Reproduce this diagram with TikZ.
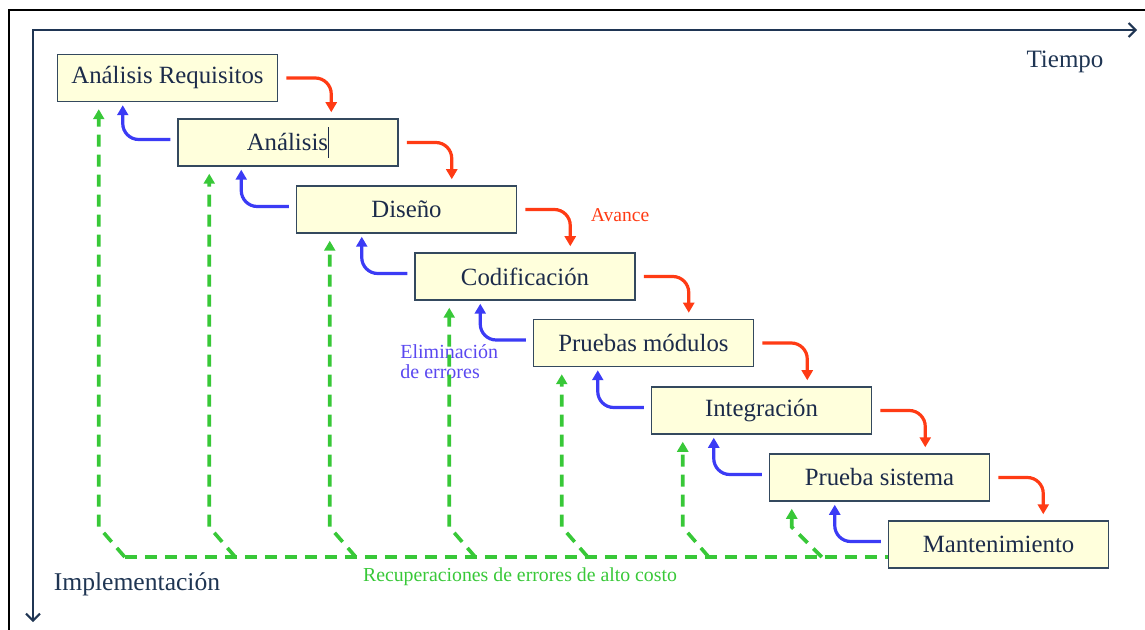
\documentclass[tikz,border=0pt]{standalone}
\usepackage{fontspec}
\setmainfont{Liberation Serif}
\usetikzlibrary{arrows.meta,calc}
\definecolor{fasefill}{HTML}{FFFFDC}
\definecolor{fasedraw}{HTML}{34495E}
\definecolor{fasetext}{HTML}{1C2B4A}
\definecolor{rojo}{HTML}{FF3B14}
\definecolor{azul}{HTML}{3B3BF5}
\definecolor{violeta}{HTML}{5A48F0}
\definecolor{verde}{HTML}{38C838}
\definecolor{ejecolor}{HTML}{1F3553}
\tikzset{
  fase box/.style = {
    shape = rectangle,
    align = center,
    draw  = fasedraw,
    fill  = fasefill,
    text  = fasetext,
    line width = 0.75pt,
    minimum width = 110pt,
    minimum height = 23.5pt,
    inner sep = 0pt,
    font = \fontsize{12.4}{14}\selectfont},
  avance/.style = {draw = rojo, line width = 1.6pt, rounded corners = 8pt,
    -{Triangle[width = 5.5pt, length = 5pt]}},
  elim/.style = {draw = azul, line width = 1.6pt, rounded corners = 8pt,
    -{Triangle[width = 5.5pt, length = 5pt]}},
  recup/.style = {draw = verde, line width = 1.8pt, dash pattern = on 6pt off 4pt,
    -{Triangle[width = 5.5pt, length = 5pt]}},
  recup line/.style = {draw = verde, line width = 1.8pt, dash pattern = on 6pt off 4pt},
  eje/.style = {draw = ejecolor, line width = 1pt,
    {Straight Barb[length = 3.5pt, width = 7pt]}-{Straight Barb[length = 3.5pt, width = 7pt]}}
}
\begin{document}
\begin{tikzpicture}[x = 0.5pt, y = -0.5pt]
  \useasboundingbox (0,0) rectangle (1145,630);
  \draw[line width = 1pt] (9,630) -- (9,10) -- (1145,10);
  % ejes
  \coordinate (origen) at (33,30);
  \coordinate (tfin) at (1137,30);
  \coordinate (ifin) at (33,622);
  \coordinate (base) at (0,557);
  \draw[eje] (ifin) -- (origen) -- (tfin);
  \node[text = ejecolor, font = \fontsize{12.5}{14}\selectfont] (tiempo) at (1065,62) {Tiempo};
  \node[text = ejecolor, font = \fontsize{12.8}{14}\selectfont] (impl) at (137,584) {Implementación};
  % fases
  \node[fase box] (req)  at (167.5,78)  {Análisis Requisitos};
  \node[fase box] (ana)  at (288,142.5) {Análisis\rule[-0.3em]{0.6pt}{1.25em}};
  \node[fase box] (dis)  at (406.5,209.5) {Diseño};
  \node[fase box] (cod)  at (525,276.5) {Codificación};
  \node[fase box] (pmod) at (643.5,343) {Pruebas módulos};
  \node[fase box] (int)  at (761.5,410.5) {Integración};
  \node[fase box] (psis) at (879.5,477.5) {Prueba sistema};
  \node[fase box] (mant) at (998.5,544.5) {Mantenimiento};
  % textos
  \node[text = rojo, font = \fontsize{9.8}{12}\selectfont] (avtxt) at (620,215) {Avance};
  \node[text = violeta, align = left, anchor = west, inner sep = 0pt,
        font = \fontsize{10}{10}\selectfont] (eltxt) at (400,362) {Eliminación\\de errores};
  \node[text = verde, font = \fontsize{9.9}{12}\selectfont] (rectxt) at (520,577)
        {Recuperaciones de errores de alto costo};
  % avance
  \draw[avance] ([xshift = 4pt]req.east)  -| ($(req.east |- ana.north)+(26.5pt,3pt)$);
  \draw[avance] ([xshift = 4pt]ana.east)  -| ($(ana.east |- dis.north)+(26.5pt,3pt)$);
  \draw[avance] ([xshift = 4pt]dis.east)  -| ($(dis.east |- cod.north)+(26.5pt,3pt)$);
  \draw[avance] ([xshift = 4pt]cod.east)  -| ($(cod.east |- pmod.north)+(26.5pt,3pt)$);
  \draw[avance] ([xshift = 4pt]pmod.east) -| ($(pmod.east |- int.north)+(26.5pt,3pt)$);
  \draw[avance] ([xshift = 4pt]int.east)  -| ($(int.east |- psis.north)+(26.5pt,3pt)$);
  \draw[avance] ([xshift = 4pt]psis.east) -| ($(psis.east |- mant.north)+(26.5pt,3pt)$);
  % eliminacion de errores
  \draw[elim] ([xshift = -3.5pt, yshift = 1.5pt]ana.west)  -| ($(req.south west)+(33pt,-1.5pt)$);
  \draw[elim] ([xshift = -3.5pt, yshift = 1.5pt]dis.west)  -| ($(ana.south west)+(32pt,-1.5pt)$);
  \draw[elim] ([xshift = -3.5pt, yshift = 1.5pt]cod.west)  -| ($(dis.south west)+(33pt,-1.5pt)$);
  \draw[elim] ([xshift = -3.5pt, yshift = 1.5pt]pmod.west) -| ($(cod.south west)+(33pt,-1.5pt)$);
  \draw[elim] ([xshift = -3.5pt, yshift = 1.5pt]int.west)  -| ($(pmod.south west)+(32.5pt,-1.5pt)$);
  \draw[elim] ([xshift = -3.5pt, yshift = 1.5pt]psis.west) -| ($(int.south west)+(31.5pt,-1.5pt)$);
  \draw[elim] ([xshift = -3.5pt, yshift = 1.5pt]mant.west) -| ($(psis.south west)+(33pt,-1.5pt)$);
  % recuperaciones
  \draw[recup line] ($(req.south west |- base)+(34pt,0)$) -- (mant.west |- base);
  \draw[recup] ($(req.south west |- base)+(34pt,0)$)   -- ($(req.south west |- base)+(21pt,15pt)$)   -- ($(req.south west)+(21pt,-3.5pt)$);
  \draw[recup] ($(ana.south west |- base)+(29pt,0)$)   -- ($(ana.south west |- base)+(16pt,15pt)$)   -- ($(ana.south west)+(16pt,-3.5pt)$);
  \draw[recup] ($(dis.south west |- base)+(30pt,0)$)   -- ($(dis.south west |- base)+(17pt,15pt)$)   -- ($(dis.south west)+(17pt,-3.5pt)$);
  \draw[recup] ($(cod.south west |- base)+(30.5pt,0)$) -- ($(cod.south west |- base)+(17.5pt,15pt)$) -- ($(cod.south west)+(17.5pt,-3.5pt)$);
  \draw[recup] ($(pmod.south west |- base)+(27.5pt,0)$) -- ($(pmod.south west |- base)+(14.5pt,15pt)$) -- ($(pmod.south west)+(14.5pt,-3.5pt)$);
  \draw[recup] ($(int.south west |- base)+(29pt,0)$)   -- ($(int.south west |- base)+(16pt,15pt)$)   -- ($(int.south west)+(16pt,-3.5pt)$);
  \draw[recup] ($(psis.south west |- base)+(26.5pt,0)$) -- ($(psis.south west |- base)+(11.5pt,15pt)$) -- ($(psis.south west)+(11.5pt,-3.5pt)$);
\end{tikzpicture}
\end{document}
